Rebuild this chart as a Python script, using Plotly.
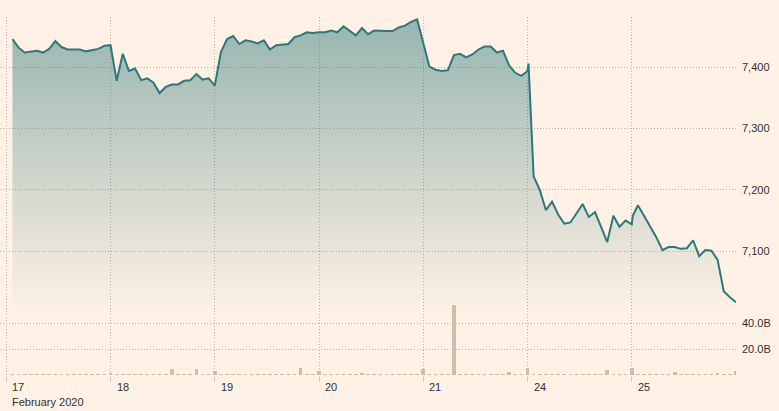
import plotly.graph_objects as go

# ---------------- data ----------------
days = ["17", "18", "19", "20", "21", "24", "25"]
month_label = "February 2020"
slot_times = ["08:30", "09:00", "09:30", "10:00", "10:30", "11:00", "11:30", "12:00", "12:30",
              "13:00", "13:30", "14:00", "14:30", "15:00", "15:30", "16:00", "16:30"]

price_17 = [7446, 7432, 7424, 7426, 7427, 7424, 7430, 7443, 7433, 7429, 7429, 7429, 7426, 7428, 7430, 7435, 7436]
price_18 = [7378, 7422, 7394, 7398, 7379, 7382, 7375, 7358, 7368, 7372, 7372, 7378, 7379, 7389, 7380, 7382, 7370]
price_19 = [7425, 7446, 7451, 7438, 7444, 7442, 7439, 7444, 7429, 7436, 7437, 7438, 7449, 7452, 7457, 7456, 7457]
price_20 = [7457, 7460, 7457, 7467, 7460, 7452, 7464, 7454, 7460, 7459, 7459, 7459, 7465, 7468, 7474, 7478, 7440]
price_21 = [7401, 7396, 7394, 7395, 7420, 7422, 7416, 7421, 7429, 7434, 7434, 7424, 7427, 7403, 7391, 7386, 7394]
price_24 = [7222, 7200, 7167, 7181, 7160, 7145, 7147, 7162, 7177, 7156, 7164, 7140, 7115, 7158, 7140, 7150, 7144]
price_25 = [7175, 7158, 7141, 7123, 7102, 7107, 7107, 7104, 7105, 7118, 7092, 7102, 7101, 7086, 7035, 7025, 7017]

close_auction_days = ["21", "24"]
close_auction_time = "16:35"
close_auction_prices = [7406, 7158]

# volume in billions
volume_17 = [0.9, 0.7, 0.6, 0.6, 0.5, 0.6, 0.5, 0.6, 0.5, 0.6, 0.6, 0.6, 0.7, 0.7, 0.6, 0.8, 1.3]
volume_18 = [0.8, 0.7, 0.6, 0.6, 0.6, 0.5, 0.6, 0.6, 0.6, 4.6, 0.7, 0.6, 0.7, 4.6, 0.9, 0.7, 3.3]
volume_19 = [0.8, 0.7, 0.6, 0.6, 0.6, 0.6, 0.5, 0.5, 0.6, 0.6, 0.6, 0.6, 0.7, 5.4, 0.7, 0.7, 3.3]
volume_20 = [0.8, 0.7, 0.6, 0.6, 0.6, 0.6, 1.5, 0.6, 0.6, 0.6, 0.6, 0.6, 0.7, 0.7, 0.7, 0.8, 4.6]
volume_21 = [1.0, 0.7, 0.6, 0.6, 53.8, 0.7, 0.6, 0.6, 0.6, 0.6, 0.6, 0.6, 0.7, 2.0, 0.7, 0.7, 5.4]
volume_24 = [1.0, 0.8, 1.0, 0.8, 0.7, 0.7, 0.7, 0.6, 0.6, 0.7, 0.7, 0.7, 3.8, 1.0, 1.0, 0.8, 5.4]
volume_25 = [1.0, 0.8, 0.7, 0.7, 0.7, 0.7, 2.3, 0.7, 0.7, 0.6, 0.6, 0.7, 0.7, 1.5, 0.8, 0.8, 3.0]

price_ticks = [7100, 7200, 7300, 7400]
volume_ticks = [20, 40]
volume_tick_labels = ["20.0B", "40.0B"]

prices = [price_17, price_18, price_19, price_20, price_21, price_24, price_25]
volumes = [volume_17, volume_18, volume_19, volume_20, volume_21, volume_24, volume_25]

# ---------------- styling ----------------
BG = "#FFF1E5"
LINE = "#2c787a"
BAR = "#cdbeac"
GRID = "#bdb3a9"
TEXT = "#33302E"
FONT = "Liberation Sans, Arial, sans-serif"
DOTS = "1px,2px"

SESSION = 510  # minutes from 08:00 to 16:30


def session_x(day_idx, t):
    h, m = map(int, t.split(":"))
    return day_idx * SESSION + (h * 60 + m - 480)


px_x, px_y, vx, vy = [], [], [], []
for d, day in enumerate(days):
    for t, p, v in zip(slot_times, prices[d], volumes[d]):
        px_x.append(session_x(d, t))
        px_y.append(p)
        vx.append(session_x(d, t))
        vy.append(v)
    if day in close_auction_days:
        px_x.append(session_x(d, close_auction_time))
        px_y.append(close_auction_prices[close_auction_days.index(day)])

fig = go.Figure()
fig.add_trace(go.Scatter(
    x=px_x, y=px_y, mode="lines",
    line=dict(color=LINE, width=2),
    fill="tozeroy",
    fillgradient=dict(type="vertical",
                      colorscale=[[0, "rgba(44,120,122,0)"], [1, "rgba(44,120,122,0.5)"]],
                      start=7000, stop=7482),
    yaxis="y", hoverinfo="skip"))
fig.add_trace(go.Bar(x=vx, y=vy, marker_color=BAR, marker_line_width=0, width=18,
                     yaxis="y2", hoverinfo="skip"))

annotations = []
for d, day in enumerate(days):
    annotations.append(dict(x=d * SESSION, y=0, xref="x", yref="paper", text=day,
                            showarrow=False, xanchor="left", yanchor="middle",
                            xshift=4, yshift=-12, font=dict(size=11, color=TEXT, family=FONT)))
annotations.append(dict(x=0, y=0, xref="x", yref="paper", text=month_label,
                        showarrow=False, xanchor="left", yanchor="middle",
                        xshift=4, yshift=-27, font=dict(size=11, color=TEXT, family=FONT)))

fig.update_layout(
    width=779, height=411,
    margin=dict(l=0, r=43, t=17, b=36),
    paper_bgcolor=BG, plot_bgcolor=BG,
    showlegend=False,
    bargap=0,
    hovermode=False,
    font=dict(family=FONT, size=11, color=TEXT),
    xaxis=dict(range=[-30.8, 3570], tickvals=[d * SESSION for d in range(len(days))],
               showticklabels=False, ticks="outside", ticklen=6, tickcolor="#d3c8bc",
               showgrid=True, griddash=DOTS, gridcolor=GRID, gridwidth=1,
               zeroline=False, showline=False),
    yaxis=dict(domain=[0, 1], range=[6898.3, 7482], side="right", tickvals=price_ticks,
               tickformat=",", showgrid=True, griddash=DOTS, gridcolor=GRID, gridwidth=1,
               zeroline=False, showline=False, ticks="", ticklabelstandoff=5,
               tickfont=dict(size=11, color=TEXT)),
    yaxis2=dict(overlaying="y", range=[0, 275.4], side="right", tickvals=volume_ticks,
                ticktext=volume_tick_labels, showgrid=True, griddash=DOTS, gridcolor=GRID,
                gridwidth=1, zeroline=False, showline=False, ticks="", ticklabelstandoff=5,
                tickfont=dict(size=11, color=TEXT)),
    annotations=annotations,
)

fig.write_html("out.html",
               config={"displayModeBar": False, "staticPlot": True},
               post_script="document.body.style.margin='0';document.body.style.background='#FFF1E5';")
